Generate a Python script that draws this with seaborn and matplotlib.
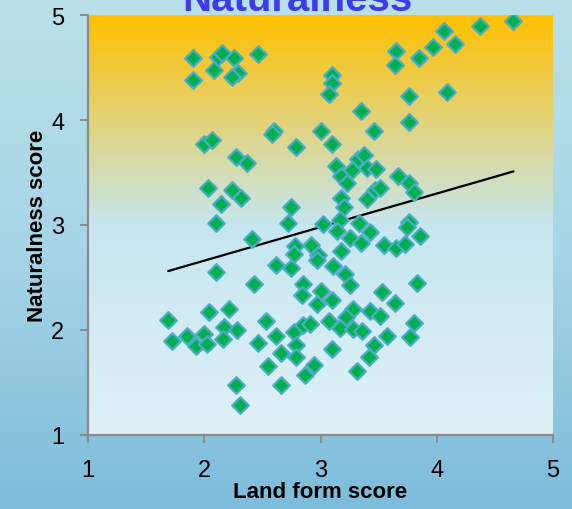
import numpy as np
import pandas as pd
import matplotlib
matplotlib.use("Agg")
import matplotlib.pyplot as plt
from matplotlib.colors import LinearSegmentedColormap
import seaborn as sns

# Land form score (x) and naturalness score (y) for each rated landscape
land_form = [
    1.90, 1.90, 2.08, 2.12, 2.15, 2.26, 2.29, 2.24, 2.46, 3.10, 3.10, 3.07,
    3.35, 3.65, 3.64, 3.85, 3.97, 4.06, 4.16, 4.37, 4.66, 3.76, 4.09, 3.76,
    2.00, 2.07, 2.27, 2.37, 2.60, 2.58, 2.79, 3.00, 3.10, 2.03, 2.24, 2.32,
    2.14, 2.10, 2.75, 2.72, 2.41, 2.78, 2.92, 3.02, 3.13, 3.18, 3.18, 3.20,
    3.17, 3.14, 3.18, 3.46, 3.32, 3.37, 3.40, 3.48, 3.27, 3.23, 3.67, 3.76,
    3.80, 3.47, 3.51, 3.40, 3.33, 3.43, 3.76, 3.74, 3.86, 3.25, 3.35, 3.55,
    3.65, 3.73, 2.77, 2.98, 2.10, 2.43, 2.62, 2.75, 2.85, 2.84, 2.97, 3.00,
    3.10, 2.97, 3.11, 1.69, 2.04, 2.21, 1.72, 1.85, 1.93, 2.00, 2.02, 2.17,
    2.16, 2.28, 2.53, 2.46, 2.62, 2.66, 2.55, 2.77, 2.79, 2.85, 2.91, 2.79,
    2.87, 2.94, 3.07, 3.17, 3.10, 2.27, 2.31, 2.66, 3.21, 3.25, 3.53, 3.64,
    3.83, 3.43, 3.51, 3.28, 3.22, 3.28, 3.36, 3.57, 3.46, 3.80, 3.77, 3.42,
    3.31,
]
naturalness = [
    4.59, 4.38, 4.48, 4.60, 4.64, 4.59, 4.45, 4.41, 4.63, 4.43, 4.35, 4.25,
    4.09, 4.66, 4.52, 4.59, 4.70, 4.85, 4.72, 4.90, 4.94, 4.23, 4.27, 3.98,
    3.77, 3.81, 3.65, 3.59, 3.90, 3.87, 3.74, 3.90, 3.77, 3.35, 3.33, 3.26,
    3.20, 3.02, 3.17, 3.02, 2.87, 2.80, 2.81, 3.01, 3.56, 3.47, 3.26, 3.17,
    3.05, 2.94, 2.75, 3.90, 3.63, 3.67, 3.54, 3.53, 3.52, 3.40, 3.47, 3.40,
    3.31, 3.33, 3.35, 3.25, 3.02, 2.93, 3.03, 2.98, 2.90, 2.88, 2.83, 2.81,
    2.78, 2.82, 2.72, 2.71, 2.55, 2.44, 2.62, 2.59, 2.44, 2.33, 2.25, 2.37,
    2.29, 2.67, 2.61, 2.10, 2.17, 2.20, 1.90, 1.94, 1.85, 1.96, 1.87, 2.03,
    1.91, 2.00, 2.09, 1.88, 1.94, 1.78, 1.66, 1.98, 1.86, 2.05, 2.06, 1.74,
    1.57, 1.67, 2.09, 2.02, 1.82, 1.48, 1.29, 1.48, 2.53, 2.43, 2.36, 2.26,
    2.45, 2.18, 2.13, 2.20, 2.12, 2.01, 1.99, 1.94, 1.86, 2.07, 1.93, 1.74,
    1.61,
]
ticks = [1, 2, 3, 4, 5]

df = pd.DataFrame({"Land form score": land_form, "Naturalness score": naturalness})

sns.set_theme(style="white")
plt.rcParams["font.family"] = ["Liberation Sans", "DejaVu Sans"]

fig = plt.figure(figsize=(5.72, 5.10), dpi=100)

# Figure background: soft vertical blue gradient
bg = fig.add_axes([0, 0, 1, 1], zorder=-10)
bg_cmap = LinearSegmentedColormap.from_list("bg", ["#b9e1e9", "#a6d5e5", "#7dbcdb"])
bg.imshow(np.linspace(0, 1, 256).reshape(-1, 1), cmap=bg_cmap, aspect="auto",
          extent=(0, 1, 0, 1), origin="upper")
bg.set_axis_off()

ax = fig.add_axes([88 / 572, 74 / 510, 465 / 572, 420 / 510])
ax.set_facecolor("none")

# Plot area: amber at the top fading through pale yellow into light blue
area_cmap = LinearSegmentedColormap.from_list(
    "area", [(0.0, "#ffc000"), (0.5, "#c6e6f0"), (1.0, "#e0f1f8")])
ax.imshow(np.linspace(0, 1, 256).reshape(-1, 1), cmap=area_cmap, aspect="auto",
          extent=(1, 5, 1, 5), origin="upper", zorder=0)

sns.regplot(data=df, x="Land form score", y="Naturalness score", ax=ax,
            scatter=False, ci=None, truncate=True,
            line_kws=dict(color="black", lw=1.6, zorder=2))
sns.scatterplot(data=df, x="Land form score", y="Naturalness score", ax=ax,
                marker="D", s=72, color="#00b050", edgecolor="#4bacc6",
                linewidth=1.6, zorder=3)

ax.set_xlim(1, 5)
ax.set_ylim(1, 5)
ax.set_xticks(ticks)
ax.set_yticks(ticks)
ax.set_xticklabels([str(t) for t in ticks])
ax.set_yticklabels([str(t) for t in ticks])
ax.tick_params(axis="both", which="major", direction="out", length=6, width=1.4,
               color="#8a8a8a", labelsize=17, pad=11, labelcolor="black")
ax.tick_params(left=True, bottom=True)
for side in ("top", "right"):
    ax.spines[side].set_visible(False)
for side in ("left", "bottom"):
    ax.spines[side].set_color("#8a8a8a")
    ax.spines[side].set_linewidth(1.6)

ax.set_xlabel("Land form score", fontsize=16, fontweight="bold", color="black")
ax.set_ylabel("Naturalness score", fontsize=16, fontweight="bold", color="black")
ax.xaxis.set_label_coords(0.5, (436 - 493) / 420)
ax.xaxis.label.set_va("center")
ax.yaxis.set_label_coords((38 - 88) / 465, 0.5)
ax.yaxis.label.set_va("center")

# Chart title sits partly above the top edge of the canvas
fig.text(297 / 572, 1 - 11 / 510, "Naturalness", ha="center", va="baseline",
         fontsize=29, fontweight="bold", color="#3d3af0")

fig.savefig("out.png", dpi=100)
